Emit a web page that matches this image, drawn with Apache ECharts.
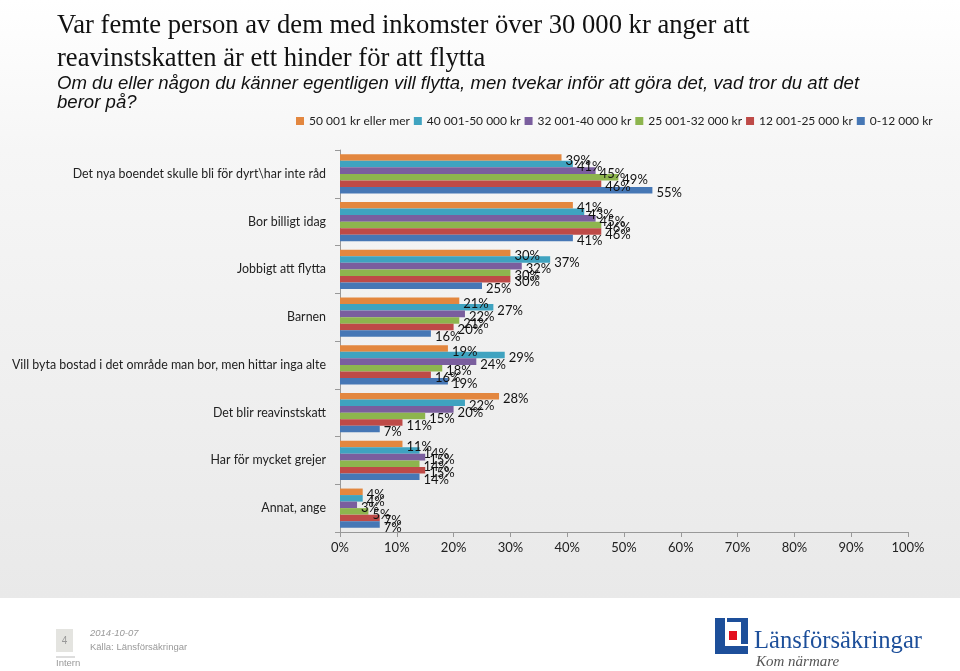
<!DOCTYPE html>
<html><head><meta charset="utf-8">
<script src="https://cdn.jsdelivr.net/npm/echarts@6/dist/echarts.min.js"></script>
<style>html,body{margin:0;padding:0;background:#fff}#c{width:960px;height:671px}</style>
</head><body><div id="c"></div>
<script>
const categories = [
  "Det nya boendet skulle bli för dyrt\\har inte råd",
  "Bor billigt idag",
  "Jobbigt att flytta",
  "Barnen",
  "Vill byta bostad i det område man bor, men hittar inga alte",
  "Det blir reavinstskatt",
  "Har för mycket grejer",
  "Annat, ange"
];
const seriesNames = ["50 001 kr eller mer","40 001-50 000 kr","32 001-40 000 kr","25 001-32 000 kr","12 001-25 000 kr","0-12 000 kr"];
const s50001 = [39, 41, 30, 21, 19, 28, 11, 4];
const s40001 = [41, 43, 37, 27, 29, 22, 14, 4];
const s32001 = [45, 45, 32, 22, 24, 20, 15, 3];
const s25001 = [49, 46, 30, 21, 18, 15, 14, 5];
const s12001 = [46, 46, 30, 20, 16, 11, 15, 7];
const s0 = [55, 41, 25, 16, 19, 7, 14, 7];
const xTicks = [0,10,20,30,40,50,60,70,80,90,100];
const colors = ["#E3873F","#3FA3C0","#7A5E9E","#8DB54E","#BE4A47","#4677B5"];
const values = [s50001, s40001, s32001, s25001, s12001, s0];

const chart = echarts.init(document.getElementById('c'));
const FONT = 'Lato';
chart.setOption({
  animation: false,
  backgroundColor: 'transparent',
  color: colors,
  legend: {
    left: 291, top: 110, width: 680,
    itemWidth: 8, itemHeight: 8, itemGap: 4,
    icon: 'rect',
    textStyle: {fontFamily: FONT, fontSize: 12, color: '#222'},
    data: seriesNames
  },
  grid: {left: 340, right: 52, top: 150, bottom: 139, containLabel: false},
  xAxis: {
    type: 'value', min: 0, max: 100, interval: 10,
    axisLine: {show: true, lineStyle: {color: '#999'}},
    axisTick: {show: true, length: 5, lineStyle: {color: '#999'}},
    splitLine: {show: false},
    axisLabel: {fontFamily: FONT, fontSize: 13, color: '#222', margin: 9,
      formatter: v => xTicks.includes(v) ? v + '%' : ''}
  },
  yAxis: {
    type: 'category', data: categories, inverse: true,
    axisLine: {show: true, lineStyle: {color: '#999'}},
    axisTick: {show: true, length: 5, inside: false, lineStyle: {color: '#999'}},
    axisLabel: {fontFamily: FONT, fontSize: 12.4, color: '#222', margin: 14}
  },
  graphic: [
    {type:'rect', z:-10, shape:{x:0,y:0,width:960,height:598},
      style:{fill:{type:'linear',x:0,y:0,x2:0,y2:1,colorStops:[{offset:0,color:'#ffffff'},{offset:0.25,color:'#f6f6f6'},{offset:1,color:'#e9e9e9'}]}}},
    {type:'text', left:57, top:13, style:{text:'Var femte person av dem med inkomster över 30 000 kr anger att', font:'26.6px "Liberation Serif"', fill:'#111'}},
    {type:'text', left:57, top:46, style:{text:'reavinstskatten är ett hinder för att flytta', font:'26.6px "Liberation Serif"', fill:'#111'}},
    {type:'text', left:57, top:74, style:{text:'Om du eller någon du känner egentligen vill flytta, men tvekar inför att göra det, vad tror du att det', font:'italic 18.6px "Liberation Sans"', fill:'#111'}},
    {type:'text', left:57, top:93, style:{text:'beror på?', font:'italic 18.6px "Liberation Sans"', fill:'#111'}},
    {type:'rect', shape:{x:56,y:629,width:17,height:23}, style:{fill:'#e4e4e0'}},
    {type:'text', x:64.5, y:641, style:{text:'4', font:'10px "Liberation Sans"', fill:'#999', align:'center', verticalAlign:'middle'}},
    {type:'line', shape:{x1:56,y1:657,x2:75,y2:657}, style:{stroke:'#bbb', lineWidth:1}},
    {type:'text', left:56, top:658, style:{text:'Intern', font:'9.5px "Liberation Sans"', fill:'#999'}},
    {type:'text', left:90, top:628, style:{text:'2014-10-07', font:'italic 9.5px "Liberation Sans"', fill:'#999'}},
    {type:'text', left:90, top:642, style:{text:'Källa: Länsförsäkringar', font:'9.5px "Liberation Sans"', fill:'#999'}},
    {type:'rect', shape:{x:715,y:618,width:33,height:36}, style:{fill:'#1d4f9a'}},
    {type:'rect', shape:{x:725,y:618,width:2,height:28}, style:{fill:'#fff'}},
    {type:'rect', shape:{x:725,y:644,width:23,height:2}, style:{fill:'#fff'}},
    {type:'rect', shape:{x:727,y:622,width:14,height:22}, style:{fill:'#fff'}},
    {type:'rect', shape:{x:729,y:631,width:8,height:9}, style:{fill:'#e3101e'}},
    {type:'text', left:754, top:629, style:{text:'Länsförsäkringar', font:'24.6px "Liberation Serif"', fill:'#1d4f9a'}},
    {type:'text', left:756, top:655, style:{text:'Kom närmare', font:'italic 15px "Liberation Serif"', fill:'#555'}}
  ],
  series: seriesNames.map((n, i) => ({
    name: n, type: 'bar', data: values[i],
    barCategoryGap: '18%', barGap: '0%',
    itemStyle: {color: colors[i]},
    label: {show: true, position: 'right', distance: 4, offset: [0, 3],
      formatter: p => p.value + '%', fontFamily: FONT, fontSize: 13, color: '#111'}
  }))
});
</script></body></html>
